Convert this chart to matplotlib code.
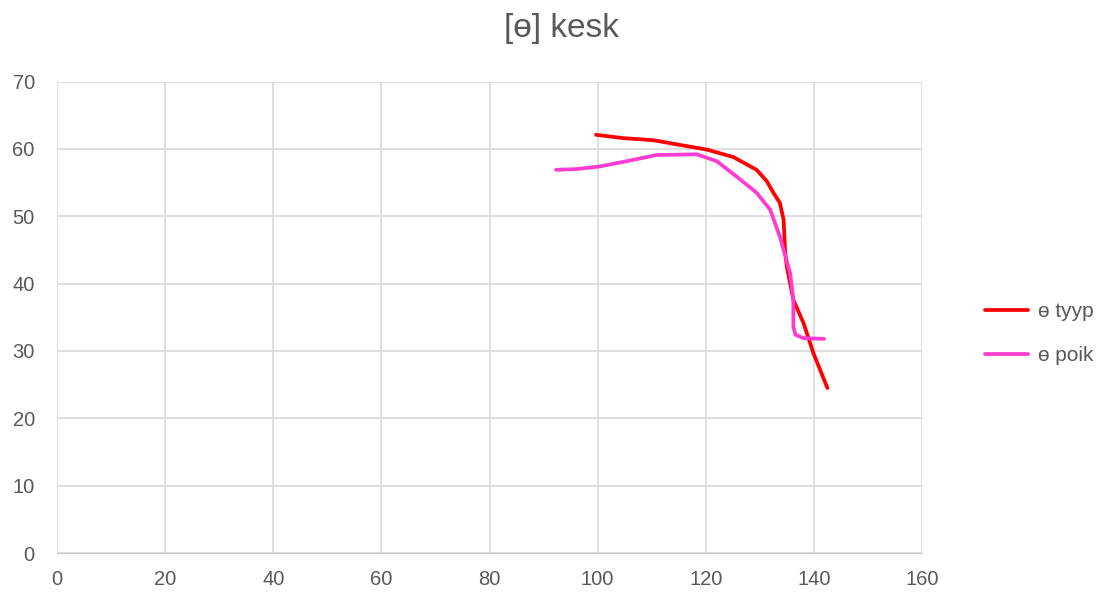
import matplotlib.pyplot as plt

# [ɵ] kesk
tyyp_x = [99.7, 104.8, 110.3, 115.2, 120.2, 125.1, 129.4, 131.3, 132.5, 133.7, 134.4, 134.7, 135.0, 136.2, 138.1, 139.9, 142.5]
tyyp_y = [62.1, 61.6, 61.3, 60.6, 59.9, 58.8, 56.9, 55.2, 53.5, 52.0, 49.5, 44.5, 42.5, 37.6, 34.1, 29.7, 24.5]

poik_x = [92.3, 96.0, 100.4, 105.5, 110.9, 118.3, 122.0, 125.7, 129.4, 131.9, 133.7, 135.6, 136.2, 136.2, 136.6, 138.1, 141.9]
poik_y = [56.9, 57.0, 57.4, 58.2, 59.1, 59.2, 58.2, 55.9, 53.5, 51.0, 47.0, 41.6, 37.6, 33.6, 32.4, 31.9, 31.8]

plt.rcParams['font.family'] = ['Liberation Sans', 'DejaVu Sans']

fig = plt.figure(figsize=(11.09, 5.96), dpi=100)
ax = fig.add_axes([0.0514, 0.0721, 0.78, 0.791])

ax.plot(tyyp_x, tyyp_y, color='#ff0000', lw=2.7, label='ɵ tyyp', solid_capstyle='round', solid_joinstyle='round')
ax.plot(poik_x, poik_y, color='#ff3ccf', lw=2.7, label='ɵ poik', solid_capstyle='round', solid_joinstyle='round')

ax.set_xlim(0, 160)
ax.set_ylim(0, 70)
ax.set_xticks(range(0, 161, 20))
ax.set_yticks(range(0, 71, 10))
ax.grid(True, color='#d9d9d9', lw=1.2)
ax.set_axisbelow(True)
for s in ['top', 'right', 'left']:
    ax.spines[s].set_visible(False)
ax.spines['bottom'].set_color('#c8c8c8')
ax.tick_params(length=0, labelsize=14.5, colors='#595959')
ax.tick_params(axis='y', pad=16)
ax.tick_params(axis='x', pad=12)

fig.text(0.506, 0.952, '[ɵ] kesk', ha='center', va='center', fontsize=24, color='#595959')

fig.legend(loc='center left', bbox_to_anchor=(0.871, 0.44), frameon=False,
           fontsize=15, labelcolor='#595959', handlelength=2.1, handletextpad=0.45,
           labelspacing=1.2)

fig.savefig('out.png', dpi=100)
